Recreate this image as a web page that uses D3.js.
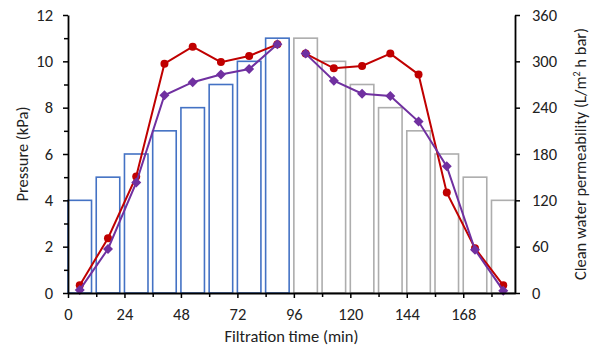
<!DOCTYPE html>
<html>
<head>
<meta charset="utf-8">
<script src="https://cdn.jsdelivr.net/npm/d3@7/dist/d3.min.js"></script>
<style>
  html, body { margin: 0; padding: 0; background: #fff; }
  svg text { font-family: Carlito, Calibri, "Open Sans", sans-serif; fill: #222; }
</style>
</head>
<body>
<div id="chart"></div>
<script>
// pressure steps (bars), minutes
const barStart = [0, 12, 24, 36, 48, 60, 72, 84, 96, 108, 120, 132, 144, 156, 168, 180];
const barEnd = [10, 22, 34, 46, 58, 70, 82, 94, 106, 118, 130, 142, 154, 166, 178, 190];
const pressure = [4, 5, 6, 7, 8, 9, 10, 11, 11, 10, 9, 8, 7, 6, 5, 4];
const phase = ["up", "up", "up", "up", "up", "up", "up", "up",
               "down", "down", "down", "down", "down", "down", "down", "down"];

// permeability readings
const sampleTime = [5, 17, 29, 41, 53, 65, 77, 89, 101, 113, 125, 137, 149, 161, 173, 185];
const permRed = [10, 71, 151, 297, 319, 299, 307, 322, 310, 291, 294, 310, 283, 130, 58, 10];
const permPurple = [4, 57, 143, 256, 273, 283, 290, 322, 310, 275, 258, 255, 222, 164, 56, 3];

const xTicks = [0, 24, 48, 72, 96, 120, 144, 168];
const xMinorTicks = [12, 36, 60, 84, 108, 132, 156, 180];
const leftTicks = [0, 2, 4, 6, 8, 10, 12];
const leftMinorTicks = [1, 3, 5, 7, 9, 11];
const rightTicks = [0, 60, 120, 180, 240, 300, 360];

const width = 594, height = 350;
const margin = { top: 15, right: 79, bottom: 57, left: 68 };
const innerW = width - margin.left - margin.right;
const innerH = height - margin.top - margin.bottom;
const fontSize = "16.5px";

const svg = d3.select("#chart").append("svg")
    .attr("width", width)
    .attr("height", height);

const g = svg.append("g")
    .attr("transform", `translate(${margin.left},${margin.top})`);

const x = d3.scaleLinear().domain([0, 190]).range([0, innerW]);
const yLeft = d3.scaleLinear().domain([0, 12]).range([innerH, 0]);
const yRight = d3.scaleLinear().domain([0, 360]).range([innerH, 0]);

// bars
const bars = d3.range(pressure.length).map(i => ({
    x0: barStart[i], x1: barEnd[i], v: pressure[i], phase: phase[i]
}));
g.selectAll("rect.bar")
    .data(bars)
    .join("rect")
    .attr("class", "bar")
    .attr("x", d => x(d.x0))
    .attr("y", d => yLeft(d.v))
    .attr("width", d => x(d.x1) - x(d.x0))
    .attr("height", d => innerH - yLeft(d.v))
    .attr("fill", "#fff")
    .attr("stroke", d => d.phase === "up" ? "#4472C4" : "#ADADAD")
    .attr("stroke-width", 1.6);

// lines, split into up and down phases
const line = d3.line().x(d => x(d.t)).y(d => yRight(d.v));

function drawSeries(values, color, marker) {
    const pts = values.map((v, i) => ({ t: sampleTime[i], v: v, phase: phase[i] }));
    ["up", "down"].forEach(p => {
        g.append("path")
            .datum(pts.filter(d => d.phase === p))
            .attr("d", line)
            .attr("fill", "none")
            .attr("stroke", color)
            .attr("stroke-width", 2);
    });
    if (marker === "circle") {
        g.selectAll(null).data(pts).join("circle")
            .attr("cx", d => x(d.t))
            .attr("cy", d => yRight(d.v))
            .attr("r", 4)
            .attr("fill", color);
    } else {
        const s = 5;
        g.selectAll(null).data(pts).join("path")
            .attr("d", `M0,${-s}L${s},0L0,${s}L${-s},0Z`)
            .attr("transform", d => `translate(${x(d.t)},${yRight(d.v)})`)
            .attr("fill", color);
    }
}
drawSeries(permRed, "#C00000", "circle");
drawSeries(permPurple, "#7030A0", "diamond");

// axes
function styleAxis(sel) {
    sel.select(".domain").attr("stroke", "#000").attr("stroke-width", 1.8);
    sel.selectAll(".tick line").attr("stroke", "#000").attr("stroke-width", 1.5);
    sel.selectAll(".tick text").style("font-size", fontSize).attr("fill", "#222");
}

g.append("g")
    .attr("transform", `translate(0,${innerH})`)
    .call(d3.axisBottom(x).tickValues(xMinorTicks).tickSize(4).tickFormat(""))
    .call(s => s.select(".domain").remove())
    .selectAll(".tick line").attr("stroke", "#000").attr("stroke-width", 1.5);

g.append("g")
    .attr("transform", `translate(0,${innerH})`)
    .call(d3.axisBottom(x).tickValues(xTicks).tickSize(5).tickPadding(10).tickSizeOuter(0))
    .call(styleAxis);

g.append("g")
    .call(d3.axisLeft(yLeft).tickValues(leftMinorTicks).tickSize(4).tickFormat(""))
    .call(s => s.select(".domain").remove())
    .selectAll(".tick line").attr("stroke", "#000").attr("stroke-width", 1.5);

g.append("g")
    .call(d3.axisLeft(yLeft).tickValues(leftTicks).tickSize(5).tickPadding(10).tickSizeOuter(0))
    .call(styleAxis);

g.append("g")
    .attr("transform", `translate(${innerW},0)`)
    .call(d3.axisRight(yRight).tickValues(rightTicks).tickSize(5).tickPadding(12).tickSizeOuter(0))
    .call(styleAxis);

// titles
svg.append("text")
    .attr("x", margin.left + innerW / 2)
    .attr("y", 342)
    .attr("text-anchor", "middle")
    .style("font-size", fontSize)
    .text("Filtration time (min)");

svg.append("text")
    .attr("transform", `translate(28,${margin.top + innerH / 2}) rotate(-90)`)
    .attr("text-anchor", "middle")
    .style("font-size", fontSize)
    .text("Pressure (kPa)");

const rt = svg.append("text")
    .attr("transform", `translate(586,${margin.top + innerH / 2}) rotate(-90)`)
    .attr("text-anchor", "middle")
    .style("font-size", fontSize);
rt.append("tspan").text("Clean water permeability (L/m");
rt.append("tspan").attr("dy", -6).style("font-size", "10px").text("2");
rt.append("tspan").attr("dy", 6).text(" h bar)");
</script>
</body>
</html>
